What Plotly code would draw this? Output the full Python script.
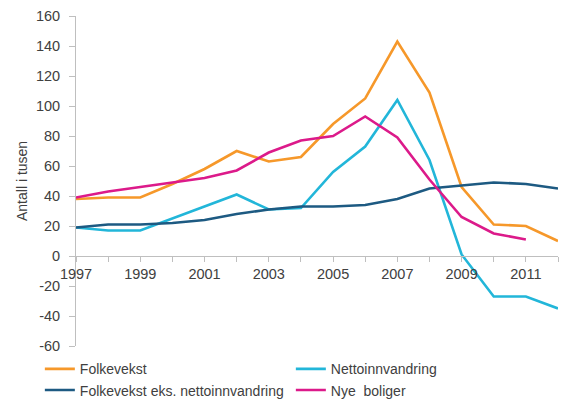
import plotly.graph_objects as go

years = list(range(1997, 2013))
folkevekst = [38, 39, 39, 48, 58, 70, 63, 66, 88, 105, 143, 109, 46, 21, 20, 10]
netto = [19, 17, 17, 25, 33, 41, 31, 32, 56, 73, 104, 64, 1, -27, -27, -35]
eks_netto = [19, 21, 21, 22, 24, 28, 31, 33, 33, 34, 38, 45, 47, 49, 48, 45]
nye_boliger = [39, 43, 46, 49, 52, 57, 69, 77, 80, 93, 79, 51, 26, 15, 11]

y_tickvals = [-60, -40, -20, 0, 20, 40, 60, 80, 100, 120, 140, 160]
y_ticktext = ["-60", "-40", "-20", "0", "20", "40", "60", "80", "100", "120", "140", "160"]

names = ["Folkevekst", "Nettoinnvandring", "Folkevekst eks. nettoinnvandring", "Nye  boliger"]
colors = ["#F6982A", "#22B6D9", "#1D5A82", "#DC1A8A"]
series = [folkevekst, netto, eks_netto, nye_boliger]

fig = go.Figure()
for name, col, vals in zip(names, colors, series):
    fig.add_trace(go.Scatter(x=years[:len(vals)], y=vals, mode="lines", name=name,
                             line=dict(color=col, width=2.6)))

font = dict(family="Liberation Sans, Arial, sans-serif", size=14, color="#404040")
tfont = dict(family="Liberation Sans, Arial, sans-serif", size=14.5, color="#404040")
axcol = "#BFBFBF"
fig.update_layout(
    width=568, height=403,
    margin=dict(l=76, r=10, t=16, b=57, autoexpand=False),
    paper_bgcolor="white", plot_bgcolor="white",
    font=font,
    showlegend=True,
    legend=dict(orientation="h", x=-0.075, xanchor="left", y=-0.022, yanchor="top",
                entrywidth=206, entrywidthmode="pixels", font=font,
                tracegroupgap=0, itemwidth=30),
    xaxis=dict(range=[1997, 2012], anchor="free", position=60 / 220,
               tickmode="linear", tick0=1997, dtick=2, ticks="outside", ticklen=5,
               tickcolor=axcol, showline=True, linecolor=axcol, linewidth=1,
               showgrid=False, zeroline=False, tickfont=tfont,
               minor=dict(ticks="outside", dtick=1, tick0=1997, ticklen=5, tickcolor=axcol, showgrid=False)),
    yaxis=dict(range=[-60, 160], tickmode="array", tickvals=y_tickvals, ticktext=y_ticktext,
               ticks="outside", ticklen=6,
               tickcolor=axcol, showline=True, linecolor=axcol, linewidth=1,
               showgrid=False, zeroline=False, tickfont=tfont, ticklabelstandoff=6),
    annotations=[dict(text="Antall i tusen", xref="paper", yref="paper",
                      x=(22 - 76) / 482, y=0.5, textangle=-90, showarrow=False,
                      font=font, xanchor="center", yanchor="middle")],
)

fig.write_html("out.html")
